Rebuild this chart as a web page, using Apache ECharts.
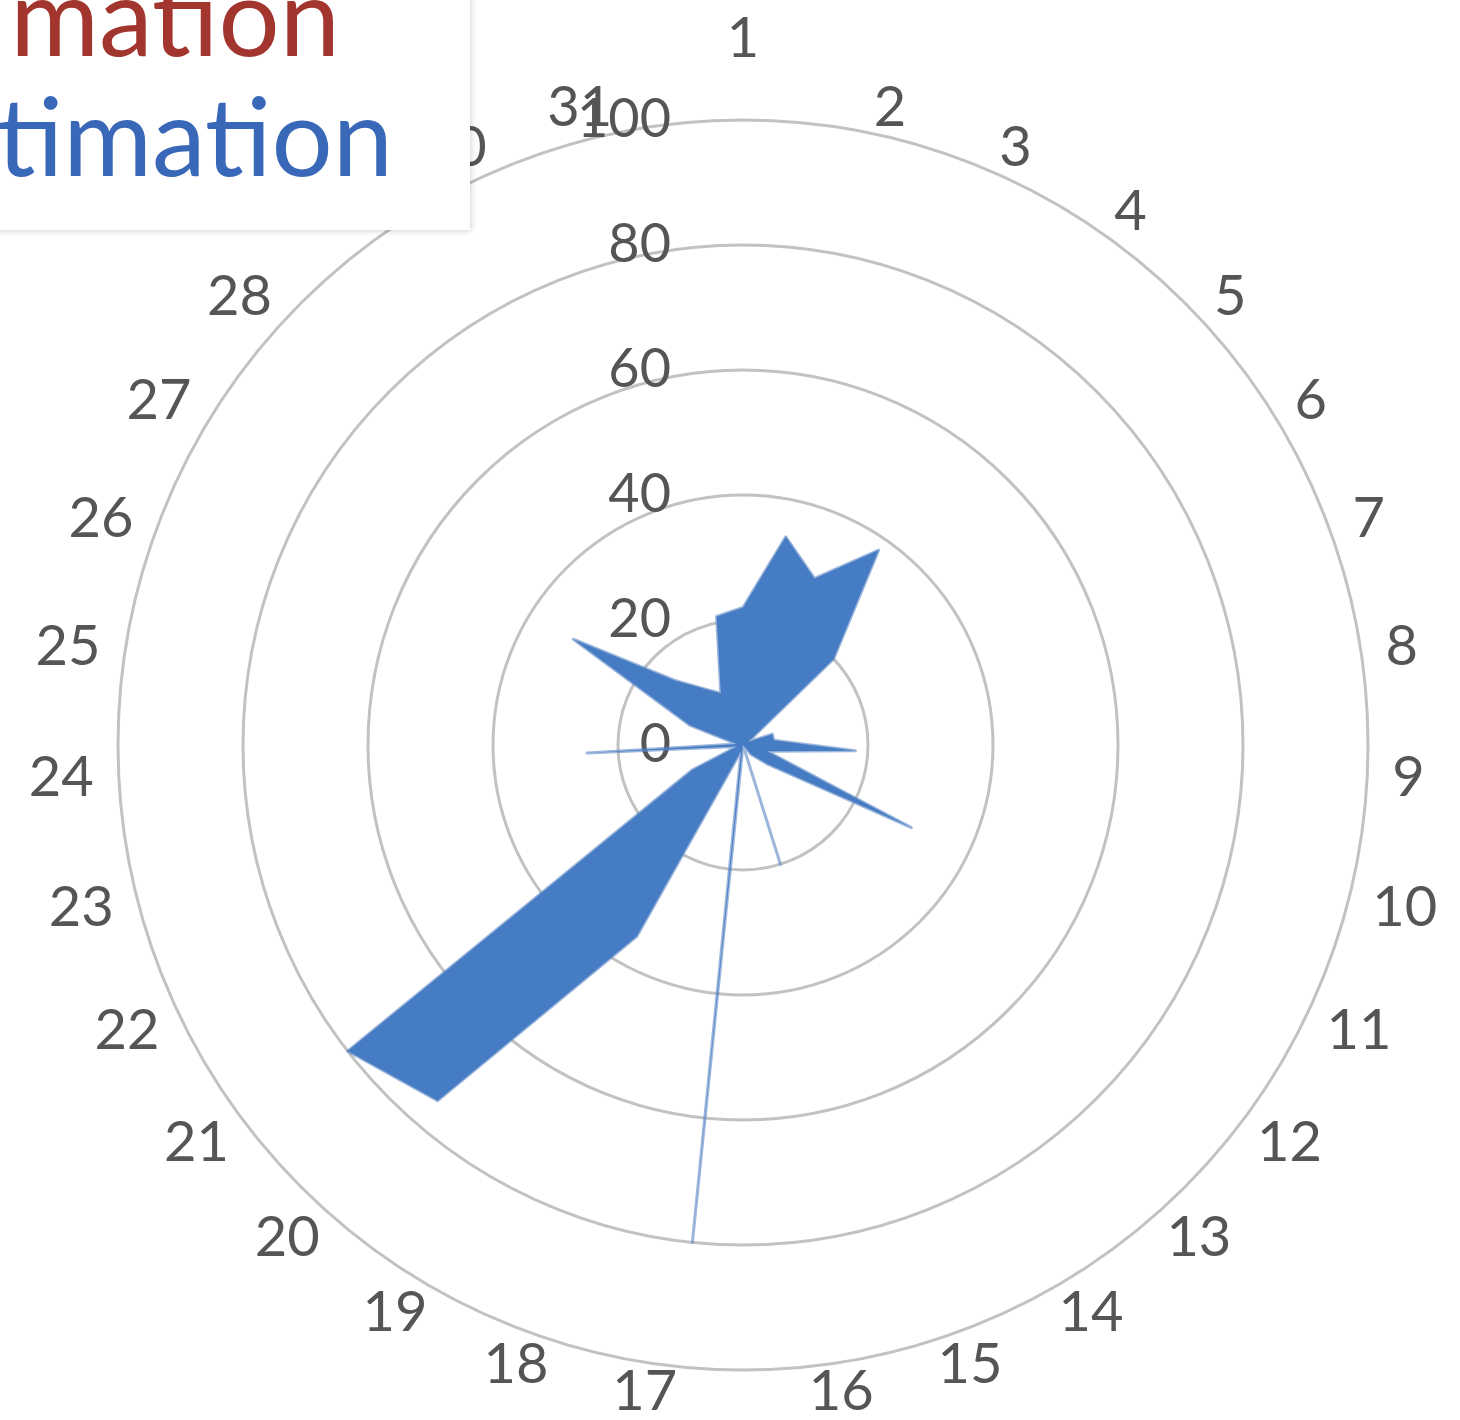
<!DOCTYPE html>
<html>
<head>
<meta charset="utf-8">
<script src="https://cdn.jsdelivr.net/npm/echarts@6/dist/echarts.min.js"></script>
<style>
html,body{margin:0;padding:0;background:#ffffff;}
#chart{width:1460px;height:1420px;}
</style>
</head>
<body>
<div id="chart"></div>
<script>
const categories = ['1','2','3','4','5','6','7','8','9','10','11','12','13','14','15','16','17','18','19','20','21','22','23','24','25','26','27','28','29','30','31'];
const estimationValues = [22,34,29,38,20,1,5,5,18,4,30,5,2,0,20,0,80,1,35,75,80,9,1,25,1,9,32,15,11,9,21];
const radiusTicks = [0,20,40,60,80,100];
const legendLabels = ['mation','timation'];
const legendColors = ['#a3352f','#3a68b8'];

// ECharts radar runs counter-clockwise; reorder so categories read clockwise from the top.
const n = categories.length;
const order = categories.map((c, k) => (n - k) % n);

const chart = echarts.init(document.getElementById('chart'), null, {renderer:'canvas'});

const indicators = order.map((idx, k) => {
  const ind = {name: categories[idx], min: radiusTicks[0], max: radiusTicks[radiusTicks.length-1]};
  if (k === 0) {
    ind.axisLabel = {show: true, margin: 72, fontSize: 54, color: '#555555', fontFamily: 'Lato', showMinLabel: true, showMaxLabel: true};
  }
  return ind;
});
const orderedValues = order.map(idx => estimationValues[idx]);

const option = {
  backgroundColor: '#ffffff',
  animation: false,
  radar: {
    center: [743, 745],
    radius: 625,
    startAngle: 90,
    shape: 'circle',
    splitNumber: radiusTicks.length - 1,
    indicator: indicators,
    nameGap: 25,
    axisName: {
      color: '#555555',
      fontSize: 56,
      fontFamily: 'Lato',
      formatter: function (name) { return name === '1' ? '{top|' + name + '}' : name; },
      rich: { top: { fontSize: 56, fontFamily: 'Lato', color: '#555555', padding: [0, 0, 28, 0] } }
    },
    axisLine: {show: false},
    axisTick: {show: false},
    axisLabel: {show: false},
    splitArea: {show: false},
    splitLine: {lineStyle: {color: '#c2c2c2', width: 3}}
  },
  series: [{
    type: 'radar',
    symbol: 'none',
    z: 3,
    data: [{
      value: orderedValues,
      name: 'Estimation',
      areaStyle: {color: '#467cc3', opacity: 1},
      lineStyle: {color: '#5a86c4', width: 3, opacity: 0.6}
    }]
  }],
  graphic: [
    {type: 'rect', z: 100, shape: {x: -10, y: -10, width: 480, height: 240},
     style: {fill: '#ffffff', shadowBlur: 6, shadowColor: 'rgba(0,0,0,0.18)', shadowOffsetX: 1, shadowOffsetY: 1}},
    {type: 'text', z: 101, x: 340, y: -33,
     style: {text: legendLabels[0], fill: legendColors[0], font: '108px Lato', align: 'right', verticalAlign: 'top'}},
    {type: 'text', z: 101, x: 393, y: 87,
     style: {text: legendLabels[1], fill: legendColors[1], font: '108px Lato', align: 'right', verticalAlign: 'top'}}
  ]
};
chart.setOption(option);
</script>
</body>
</html>
